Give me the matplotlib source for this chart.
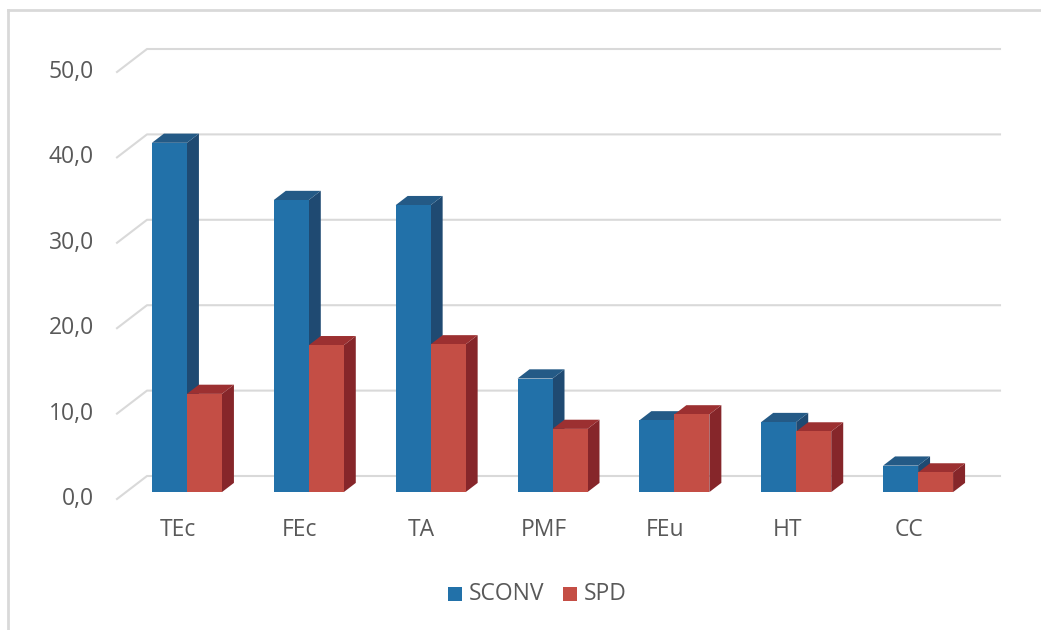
import matplotlib
matplotlib.use("Agg")
import matplotlib.pyplot as plt
from matplotlib.patches import Polygon, Rectangle
from matplotlib.lines import Line2D

categories = ["TEc", "FEc", "TA", "PMF", "FEu", "HT", "CC"]
sconv = [40.9, 34.2, 33.6, 13.3, 8.4, 8.2, 3.1]
spd = [11.5, 17.2, 17.3, 7.4, 9.1, 7.1, 2.3]
series_names = ["SCONV", "SPD"]
yticks = [0, 10, 20, 30, 40, 50]
ytick_labels = ["0,0", "10,0", "20,0", "30,0", "40,0", "50,0"]

W, H = 1041, 630
fig = plt.figure(figsize=(W / 100, H / 100), dpi=100)
plt.rcParams['font.family'] = ['Open Sans', 'DejaVu Sans']

# axes = front plane of the 3D box
left_px, right_px = 117, 970
top_px, bot_px = 72, 499
ax = fig.add_axes([left_px / W, 1 - bot_px / H, (right_px - left_px) / W, (bot_px - top_px) / H])
ax.set_xlim(-0.5, len(categories) - 0.5)
ax.set_ylim(0, 50)
ax.axis("off")

px_x = (right_px - left_px) / len(categories)  # pixels per category
px_y = (bot_px - top_px) / 50.0                 # pixels per unit
DX = 30 / px_x   # full depth in x data units
DY = 23 / px_y   # full depth in y data units

grid_col = "#d9d9d9"
x0, x1 = -0.5, len(categories) - 0.5
for v in yticks:
    ax.add_line(Line2D([x0, x0 + DX, x1 + DX], [v, v + DY, v + DY],
                       color=grid_col, lw=1.5, clip_on=False, zorder=1))

text_col = "#595959"
fs = 16.5
for v, lab in zip(yticks, ytick_labels):
    ax.text(-0.5 - 23 / px_x, v, lab, ha="right", va="center", fontsize=fs,
            color=text_col, clip_on=False)
for i, c in enumerate(categories):
    ax.text(i, -31 / px_y, c, ha="center", va="center", fontsize=fs,
            color=text_col, clip_on=False)

w = 35 / px_x
f0, f1 = 0.30, 0.70
ox, oy = f0 * DX, f0 * DY
ddx, ddy = (f1 - f0) * DX, (f1 - f0) * DY

colors = {
    "SCONV": ("#2271a9", "#245a86", "#1f4a72"),
    "SPD": ("#c44e45", "#9c3031", "#86262a"),
}

z = 2
for i in range(len(categories)):
    for k, (name, vals) in enumerate(zip(series_names, [sconv, spd])):
        v = vals[i]
        front, top, side = colors[name]
        xl = i - w + k * w + ox
        xr = xl + w
        yb = oy
        yt = v + oy
        ax.add_patch(Polygon([[xr, yb], [xr + ddx, yb + ddy], [xr + ddx, yt + ddy], [xr, yt]],
                             closed=True, facecolor=side, edgecolor="none", zorder=z, clip_on=False))
        ax.add_patch(Polygon([[xl, yt], [xr, yt], [xr + ddx, yt + ddy], [xl + ddx, yt + ddy]],
                             closed=True, facecolor=top, edgecolor="none", zorder=z, clip_on=False))
        ax.add_patch(Rectangle((xl, yb), w, v, facecolor=front, edgecolor="none",
                               zorder=z + 0.5, clip_on=False))
        z += 1

# chart border (left and top only, as in reference)
fig.add_artist(Line2D([8 / W, 8 / W], [0, 1 - 10 / H], transform=fig.transFigure,
                      color="#d9d9d9", lw=2))
fig.add_artist(Line2D([8 / W, 1], [1 - 10 / H, 1 - 10 / H], transform=fig.transFigure,
                      color="#d9d9d9", lw=2))

# legend
ly = 1 - 594 / H
for (name, (front, _, _)), sx in zip(colors.items(), [448, 563]):
    fig.add_artist(Rectangle((sx / W, ly - 7 / H), 14 / W, 14 / H, transform=fig.transFigure,
                             facecolor=front, edgecolor="none"))
    fig.text((sx + 21) / W, ly, name, ha="left", va="center", fontsize=fs, color=text_col)

fig.savefig("out.png", dpi=100)
